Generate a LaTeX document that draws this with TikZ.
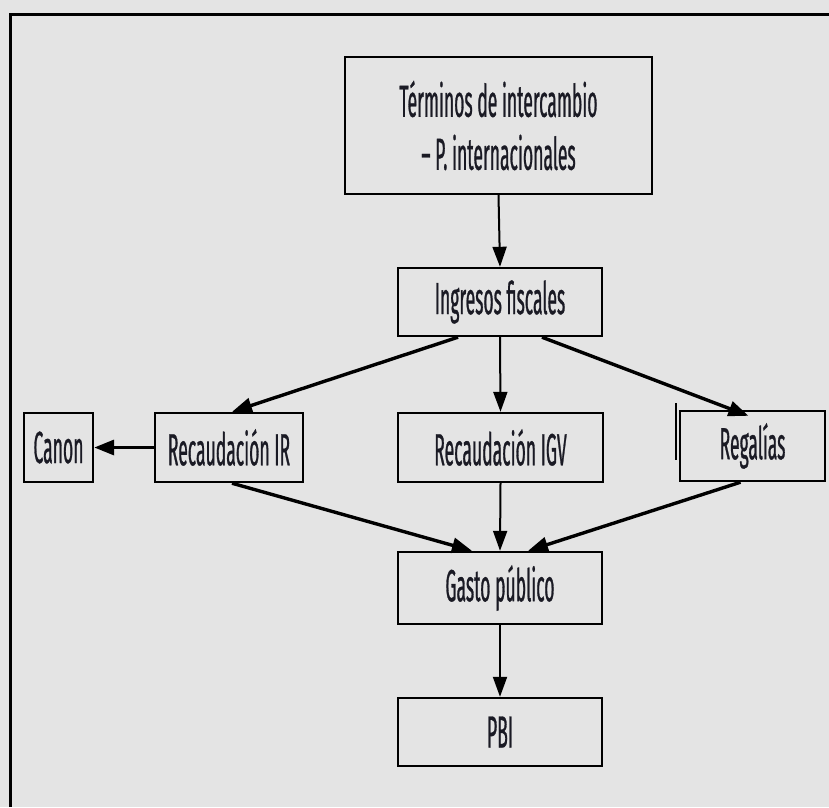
\documentclass[tikz,border=0pt]{standalone}
\usepackage{fontspec}
\setmainfont[FakeStretch=0.39,FakeBold=0.6]{Fira Sans}
\usetikzlibrary{arrows.meta,calc}
\definecolor{bggray}{HTML}{E4E4E4}
\definecolor{inkc}{HTML}{1A1A24}
\begin{document}
\begin{tikzpicture}[x=1pt,y=-1pt,
  boxn/.style={draw=black,line width=2.4pt,fill=bggray,text=inkc,inner sep=0pt,
    font=\fontsize{45}{55}\selectfont,align=center},
  arr/.style={line width=2pt,-{Triangle[length=20pt,width=14pt]}},
  darr/.style={line width=3.4pt,-{Triangle[length=20pt,width=15pt]}}]
\fill[bggray] (0,0) rectangle (829,807);
\useasboundingbox (0,0) rectangle (829,807);
\draw[line width=3pt] (10,807) -- (10,14) -- (829,14);
\node[boxn,minimum width=307pt,minimum height=137pt] (term) at (498.5,125.5) {Términos de intercambio\\[-2pt]– P. internacionales};
\node[boxn,minimum width=204pt,minimum height=68pt] (ing) at (500,302) {Ingresos fiscales};
\node[boxn,minimum width=69pt,minimum height=69pt] (canon) at (58.5,447.5) {Canon};
\node[boxn,minimum width=148pt,minimum height=69pt] (ir) at (229,447.5) {Recaudación IR};
\node[boxn,minimum width=205pt,minimum height=69pt] (igv) at (500.5,447.5) {Recaudación IGV};
\node[boxn,minimum width=145pt,minimum height=70pt] (reg) at (752.5,446) {Regalías};
\node[boxn,minimum width=204pt,minimum height=72pt] (gasto) at (500,588) {Gasto público};
\node[boxn,minimum width=204pt,minimum height=68pt] (pbi) at (500,732) {PBI};
\coordinate (s1) at (676,403);
\coordinate (s2) at (676,460);
\draw[line width=1.6pt] (s1) -- (s2);
\draw[arr] (term.south) -- (ing.north);
\draw[darr] ($(ing.south)+(-42,0)$) -- ($(ir.north)+(3,0)$);
\draw[arr] (ing.south) -- (igv.north);
\draw[darr] ($(ing.south)+(42,0)$) -- ($(reg.north)+(-4,6)$);
\draw[darr] (ir.west) -- (canon.east);
\draw[darr] ($(ir.south)+(3,0)$) -- ($(gasto.north)+(-28,0)$);
\draw[arr] (igv.south) -- (gasto.north);
\draw[darr] ($(reg.south)+(-12,0)$) -- ($(gasto.north)+(28,0)$);
\draw[arr] (gasto.south) -- (pbi.north);
\end{tikzpicture}
\end{document}
